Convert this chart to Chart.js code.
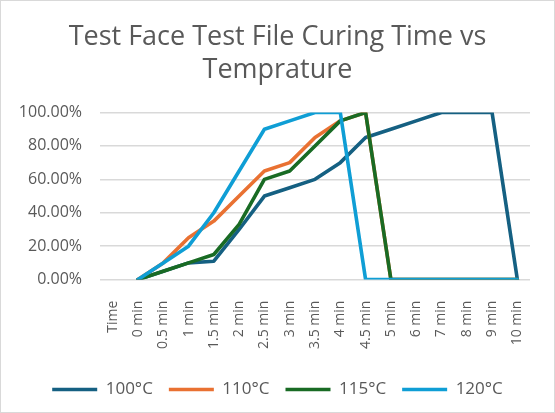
<!DOCTYPE html>
<html>
<head>
<meta charset="utf-8">
<script src="https://cdn.jsdelivr.net/npm/chart.js@4"></script>
<style>
  body { margin: 0; background: #fff; }
  #wrap { position: relative; width: 555px; height: 413px; }
  #frame { position: absolute; left: 0; top: 0; width: 553px; height: 411px;
           border: 1px solid #d9d9d9; pointer-events: none; }
</style>
</head>
<body>
<div id="wrap">
  <canvas id="myChart" width="555" height="413"></canvas>
  <div id="frame"></div>
</div>
<script>
const times = ["Time", "0 min", "0.5 min", "1 min", "1.5 min", "2 min", "2.5 min", "3 min",
  "3.5 min", "4 min", "4.5 min", "5 min", "6 min", "7 min", "8 min", "9 min", "10 min"];
const temp100 = [null, 0, 5, 10, 11, 30, 50, 55, 60, 70, 85, 90, 95, 100, 100, 100, 0];
const temp110 = [null, 0, 10, 25, 35, 50, 65, 70, 85, 95, 100, 0, 0, 0, 0, 0, 0];
const temp115 = [null, 0, 5, 10, 15, 33, 60, 65, 80, 95, 100, 0, 0, 0, 0, 0, 0];
const temp120 = [null, 0, 10, 20, 40, 65, 90, 95, 100, 100, 0, 0, 0, 0, 0, 0, 0];
const yTicks = [0, 20, 40, 60, 80, 100];

const font = "'Open Sans', sans-serif";
const grey = "#595959";

// later series sit on top, like in Excel
const line = (label, data, color, order) => ({
  label,
  data,
  order,
  borderColor: color,
  backgroundColor: color,
  borderWidth: 3.6,
  borderJoinStyle: "round",
  borderCapStyle: "round",
  pointRadius: 0,
  tension: 0,
});

const ctx = document.getElementById("myChart").getContext("2d");
const myChart = new Chart(ctx, {
  type: "line",
  data: {
    labels: times,
    datasets: [
      line("100°C", temp100, "#156082", 4),
      line("110°C", temp110, "#E97132", 3),
      line("115°C", temp115, "#196B24", 2),
      line("120°C", temp120, "#0F9ED5", 1),
    ],
  },
  options: {
    responsive: false,
    animation: false,
    layout: { padding: { left: 0, right: 0, top: 12, bottom: 5 } },
    plugins: {
      title: {
        display: true,
        text: ["Test Face Test File Curing Time vs", "Temprature"],
        color: grey,
        font: { family: font, size: 27, weight: "normal", lineHeight: 1.25 },
        padding: { top: 8, bottom: 25 },
      },
      legend: {
        position: "bottom",
        labels: {
          color: grey,
          font: { family: font, size: 17 },
          usePointStyle: true,
          pointStyle: "line",
          pointStyleWidth: 45,
          boxHeight: 16,
          padding: 16,
          sort: (a, b) => a.datasetIndex - b.datasetIndex,
        },
      },
      tooltip: { enabled: false },
    },
    scales: {
      x: {
        offset: true,
        grid: { display: false },
        border: { display: false },
        afterFit: (axis) => { axis.height += 3; },
        ticks: {
          color: grey,
          font: { family: font, size: 14 },
          minRotation: 90,
          maxRotation: 90,
          autoSkip: false,
          padding: 13,
        },
      },
      y: {
        min: 0,
        max: 100,
        afterBuildTicks: (axis) => { axis.ticks = yTicks.map((v) => ({ value: v })); },
        afterFit: (axis) => { axis.width = 100; },
        grid: { color: "#d9d9d9", lineWidth: 1.5, drawTicks: false },
        border: { display: false },
        ticks: {
          color: grey,
          font: { family: font, size: 16 },
          padding: 18,
          callback: (v) => v.toFixed(2) + "%",
        },
      },
      // empty right-hand margin so the plot ends where the reference's does
      spacer: {
        type: "linear",
        position: "right",
        afterFit: (axis) => { axis.width = 25; },
        grid: { display: false },
        border: { display: false },
        ticks: { display: false },
      },
    },
  },
});
</script>
</body>
</html>
